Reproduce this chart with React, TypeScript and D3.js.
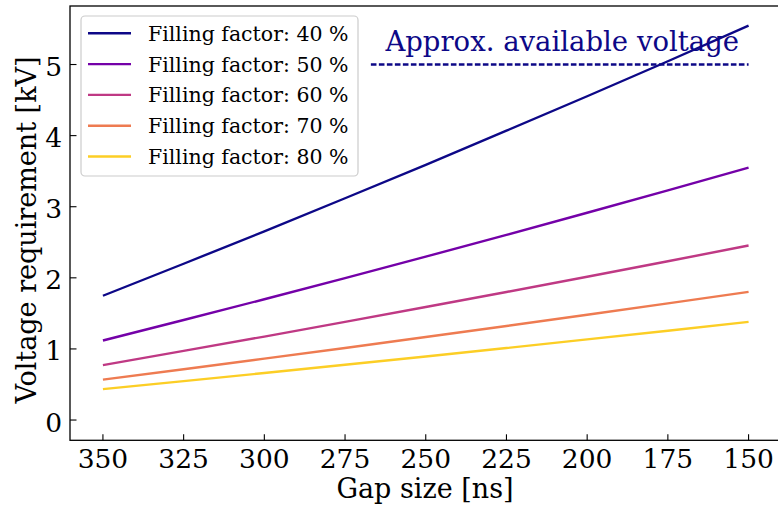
import React from "react";
import * as d3 from "d3";

const gapSizes = [350, 325, 300, 275, 250, 225, 200, 175, 150];
const fillingFactors = [40, 50, 60, 70, 80];
const v40 = [1.748, 2.198, 2.654, 3.119, 3.59, 4.069, 4.554, 5.046, 5.546];
const v50 = [1.119, 1.407, 1.699, 1.996, 2.298, 2.604, 2.915, 3.229, 3.549];
const v60 = [0.773, 0.973, 1.174, 1.38, 1.589, 1.801, 2.015, 2.233, 2.454];
const v70 = [0.568, 0.714, 0.863, 1.014, 1.167, 1.322, 1.48, 1.64, 1.802];
const v80 = [0.435, 0.547, 0.661, 0.777, 0.894, 1.013, 1.134, 1.256, 1.381];
const seriesValues = [v40, v50, v60, v70, v80];
const colorPositions = [0, 0.225, 0.45, 0.675, 0.9];
const xTicks = [350, 325, 300, 275, 250, 225, 200, 175, 150];
const yTicks = [0, 1, 2, 3, 4, 5];
const availableVoltage = 5;
const availableRange = [267, 150];
const annotationPos = [262.5, 5.19];

const W = 778;
const H = 509;
const FONT = "'DejaVu Serif', serif";

export default function App() {
  const left = 70, right = 781.5, top = 6, bottom = 440.3;
  const x = d3.scaleLinear().domain([360.2, 139.8]).range([left, right]);
  const y = d3.scaleLinear().domain([-0.285, 5.823]).range([bottom, top]);
  const line = d3
    .line<[number, number]>()
    .x((d) => x(d[0]))
    .y((d) => y(d[1]));
  const colors = colorPositions.map((t) => d3.interpolatePlasma(t));

  return (
    <svg
      width={W}
      height={H}
      style={{ position: "absolute", left: 0, top: 0, background: "#fff" }}
      fontFamily={FONT}
    >
      <rect x={0} y={0} width={W} height={H} fill="#fff" />
      {seriesValues.map((vals, i) => (
        <path
          key={i}
          d={line(gapSizes.map((g, j) => [g, vals[j]]) as [number, number][]) || ""}
          fill="none"
          stroke={colors[i]}
          strokeWidth={2.4}
        />
      ))}
      <line
        x1={x(availableRange[0])}
        x2={x(availableRange[1])}
        y1={y(availableVoltage)}
        y2={y(availableVoltage)}
        stroke="#0d0887"
        strokeWidth={2.3}
        strokeDasharray="5.6,2.4"
      />
      <text
        x={x(annotationPos[0])}
        y={y(annotationPos[1])}
        fontSize={27.5}
        fill="#0d0887"
      >
        Approx. available voltage
      </text>

      {/* spines */}
      <rect
        x={left}
        y={top}
        width={right - left}
        height={bottom - top}
        fill="none"
        stroke="#000"
        strokeWidth={1.3}
      />
      {/* x ticks */}
      {xTicks.map((t) => (
        <g key={"x" + t}>
          <line x1={x(t)} x2={x(t)} y1={bottom} y2={bottom - 6} stroke="#000" strokeWidth={1.1} />
          <text x={x(t)} y={468} fontSize={26.5} textAnchor="middle" fill="#000">
            {t}
          </text>
        </g>
      ))}
      {/* y ticks */}
      {yTicks.map((t) => (
        <g key={"y" + t}>
          <line x1={left} x2={left + 6.5} y1={y(t)} y2={y(t)} stroke="#000" strokeWidth={1.1} />
          <text x={62} y={y(t) + 11.5} fontSize={26.5} textAnchor="end" fill="#000">
            {t}
          </text>
        </g>
      ))}
      <text x={425} y={498} fontSize={27} textAnchor="middle" fill="#000">
        Gap size [ns]
      </text>
      <text
        transform={`translate(36,230) rotate(-90)`}
        fontSize={27}
        textAnchor="middle"
        fill="#000"
      >
        Voltage requirement [kV]
      </text>

      {/* legend */}
      <rect
        x={81}
        y={16}
        width={277}
        height={160}
        rx={4}
        fill="#fff"
        fillOpacity={0.8}
        stroke="#cccccc"
        strokeWidth={1.2}
      />
      {fillingFactors.map((f, i) => {
        const ry = 33.3 + i * 30.8;
        return (
          <g key={"l" + f}>
            <line x1={88} x2={131} y1={ry} y2={ry} stroke={colors[i]} strokeWidth={2.4} />
            <text x={148} y={ry + 7.5} fontSize={20.5} fill="#000">
              {`Filling factor: ${f} %`}
            </text>
          </g>
        );
      })}
    </svg>
  );
}
